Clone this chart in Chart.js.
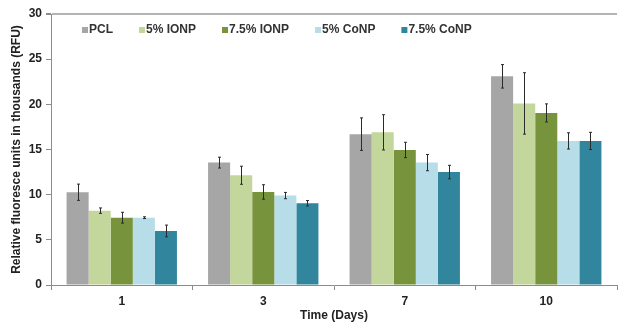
<!DOCTYPE html>
<html>
<head>
<meta charset="utf-8">
<script src="https://cdn.jsdelivr.net/npm/chart.js@4"></script>
<style>
  html, body { margin: 0; padding: 0; background: #fff; }
  #wrap { width: 618px; height: 323px; }
</style>
</head>
<body>
<div id="wrap"><canvas id="rfuChart" width="618" height="323"></canvas></div>
<script>
// data (thousands of RFU)
const days = ['1', '3', '7', '10'];
const seriesNames = ['PCL', '5% IONP', '7.5% IONP', '5% CoNP', '7.5% CoNP'];
const seriesColors = ['#a6a6a6', '#c3d69b', '#77933c', '#b7dee8', '#31859c'];

const pcl      = [10.27, 13.55, 16.7, 23.1];
const ionp5    = [8.23, 12.15, 16.9, 20.1];
const ionp75   = [7.45, 10.3, 14.95, 19.05];
const conp5    = [7.45, 9.9, 13.55, 15.95];
const conp75   = [5.98, 9.05, 12.5, 15.95];

// error bar half-lengths
const pclErr    = [0.9, 0.6, 1.8, 1.3];
const ionp5Err  = [0.3, 1.0, 1.95, 3.4];
const ionp75Err = [0.6, 0.8, 0.85, 1.0];
const conp5Err  = [0.1, 0.35, 0.9, 0.9];
const conp75Err = [0.65, 0.3, 0.75, 0.95];

const yTicks = [0, 5, 10, 15, 20, 25, 30];

const values = [pcl, ionp5, ionp75, conp5, conp75];
const errors = [pclErr, ionp5Err, ionp75Err, conp5Err, conp75Err];

const FONT = 'Liberation Sans, Arial, sans-serif';

// draws the error bars using the y scale
const errorBars = {
  id: 'errorBars',
  afterDatasetsDraw(chart) {
    const ctx = chart.ctx;
    const y = chart.scales.y;
    ctx.save();
    ctx.strokeStyle = '#2b2b2b';
    ctx.lineWidth = 1;
    chart.data.datasets.forEach((ds, i) => {
      const meta = chart.getDatasetMeta(i);
      meta.data.forEach((bar, j) => {
        const v = ds.data[j];
        const e = errors[i][j];
        const top = y.getPixelForValue(v + e);
        const bot = y.getPixelForValue(v - e);
        const x = Math.round(bar.x) + 0.5;
        ctx.beginPath();
        ctx.moveTo(x, top);
        ctx.lineTo(x, bot);
        ctx.moveTo(x - 1.5, top);
        ctx.lineTo(x + 1.5, top);
        ctx.moveTo(x - 1.5, bot);
        ctx.lineTo(x + 1.5, bot);
        ctx.stroke();
      });
    });
    ctx.restore();
  }
};

// small legend inside the plot, like the original
const innerLegend = {
  id: 'innerLegend',
  afterDraw(chart) {
    const ctx = chart.ctx;
    const area = chart.chartArea;
    ctx.save();
    ctx.font = 'bold 12px ' + FONT;
    ctx.textBaseline = 'middle';
    let x = area.left + 31;
    const yMid = area.top + 16;
    chart.data.datasets.forEach(ds => {
      ctx.fillStyle = ds.backgroundColor;
      ctx.fillRect(x, yMid - 3, 6, 6);
      ctx.fillStyle = '#333';
      ctx.fillText(ds.label, x + 7, yMid);
      x += 7 + ctx.measureText(ds.label).width + 26;
    });
    ctx.restore();
  }
};

const ctx = document.getElementById('rfuChart').getContext('2d');
new Chart(ctx, {
  type: 'bar',
  data: {
    labels: days,
    datasets: seriesNames.map((name, i) => ({
      label: name,
      data: values[i],
      backgroundColor: seriesColors[i],
      borderWidth: 0,
      barPercentage: 1,
      categoryPercentage: 0.78
    }))
  },
  options: {
    responsive: false,
    animation: false,
    layout: { padding: { top: 14, right: 1, left: 0, bottom: 0 } },
    plugins: {
      legend: { display: false },
      tooltip: { enabled: false }
    },
    scales: {
      x: {
        grid: {
          offset: true,
          drawOnChartArea: false,
          tickLength: 5,
          tickColor: '#8c8c8c'
        },
        border: { color: '#8c8c8c', width: 1 },
        ticks: {
          color: '#222',
          font: { family: FONT, size: 12, weight: 'bold' },
          padding: 4
        },
        title: {
          display: true,
          text: 'Time (Days)',
          color: '#222',
          font: { family: FONT, size: 12, weight: 'bold' },
          padding: { top: 0, bottom: 0 }
        },
        afterFit(scale) { scale.height = 38; }
      },
      y: {
        min: 0,
        max: 30,
        afterBuildTicks(scale) {
          scale.ticks = yTicks.map(v => ({ value: v }));
        },
        grid: {
          color: c => (c.tick && c.tick.value === 30 ? '#b4b4b4' : 'transparent'),
          lineWidth: c => (c.tick && c.tick.value === 30 ? 2 : 1),
          tickColor: '#8c8c8c',
          tickLength: 5
        },
        border: { color: '#8c8c8c', width: 1 },
        ticks: {
          color: '#222',
          font: { family: FONT, size: 12, weight: 'bold' },
          padding: 4
        },
        title: {
          display: true,
          text: 'Relative fluoresce units in thousands (RFU)',
          color: '#222',
          font: { family: FONT, size: 12, weight: 'bold' },
          padding: { top: 9, bottom: 0 }
        },
        afterFit(scale) { scale.width = 51; }
      }
    }
  },
  plugins: [errorBars, innerLegend]
});
</script>
</body>
</html>
